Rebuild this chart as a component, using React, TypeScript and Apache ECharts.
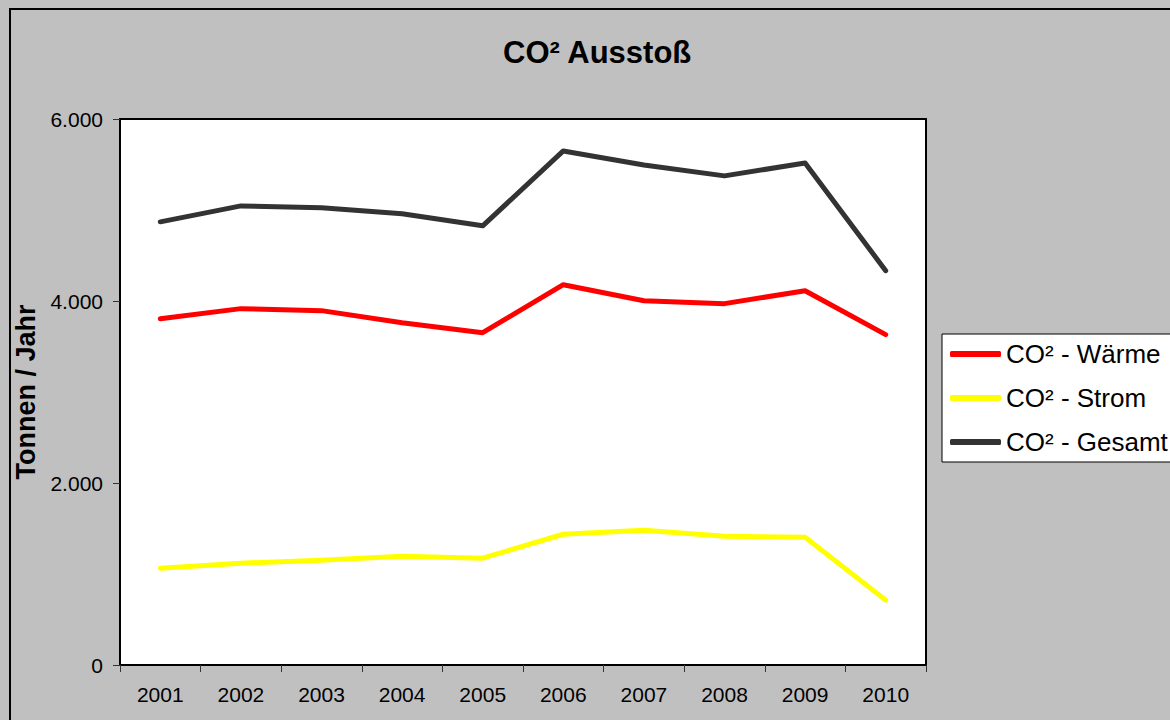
import React, { useEffect, useRef } from "react";
import * as echarts from "echarts";

const years = ["2001", "2002", "2003", "2004", "2005", "2006", "2007", "2008", "2009", "2010"];
const waerme = [3806, 3916, 3894, 3762, 3652, 4179, 4003, 3971, 4113, 3631];
const strom = [1064, 1119, 1152, 1196, 1174, 1437, 1481, 1415, 1404, 713];
const gesamt = [4870, 5045, 5025, 4958, 4826, 5649, 5495, 5375, 5517, 4333];
const seriesNames = ["CO² - Wärme", "CO² - Strom", "CO² - Gesamt"];
const seriesColors = ["#FF0000", "#FFFF00", "#333333"];

const FONT = "'Liberation Sans', Arial, sans-serif";

function fmt(v: number): string {
  return String(v).replace(/\B(?=(\d{3})+(?!\d))/g, ".");
}

export default function App() {
  const ref = useRef<HTMLDivElement>(null);
  useEffect(() => {
    if (!ref.current) return;
    const chart = echarts.init(ref.current, null, { renderer: "svg" });
    const datasets = [waerme, strom, gesamt];
    chart.setOption({
      animation: false,
      backgroundColor: "#C0C0C0",
      textStyle: { fontFamily: FONT },
      title: {
        text: "CO² Ausstoß",
        left: 503,
        top: 37,
        padding: 0,
        textStyle: { fontFamily: FONT, fontSize: 31, fontWeight: "bold", color: "#000" },
      },
      graphic: [
        {
          type: "rect",
          shape: { x: 10, y: 9, width: 1300, height: 900 },
          style: { fill: "none", stroke: "#000", lineWidth: 2 },
          silent: true,
        },
      ],
      legend: {
        orient: "vertical",
        left: 942,
        top: 334,
        padding: [7, 14, 7, 8],
        itemGap: 18,
        itemWidth: 51,
        itemHeight: 6,
        icon: "roundRect",
        backgroundColor: "#FFFFFF",
        borderColor: "#000",
        borderWidth: 1,
        textStyle: { fontFamily: FONT, fontSize: 26, color: "#000", lineHeight: 25 },
        data: seriesNames,
      },
      grid: {
        left: 120,
        top: 119,
        width: 806,
        height: 546,
        show: true,
        backgroundColor: "#FFFFFF",
        borderColor: "#000",
        borderWidth: 2,
        containLabel: false,
      },
      xAxis: {
        type: "category",
        data: years,
        boundaryGap: true,
        axisLine: { lineStyle: { color: "#000", width: 2 } },
        axisTick: { show: true, inside: false, length: 7, lineStyle: { color: "#333", width: 1 } },
        axisLabel: { fontFamily: FONT, fontSize: 21, color: "#000", margin: 19 },
        splitLine: { show: false },
      },
      yAxis: {
        type: "value",
        min: 0,
        max: 6000,
        interval: 2000,
        name: "Tonnen / Jahr",
        nameLocation: "middle",
        nameRotate: 90,
        nameGap: 70,
        nameTextStyle: { fontFamily: FONT, fontSize: 27, fontWeight: "bold", color: "#000" },
        axisLine: { show: true, lineStyle: { color: "#000", width: 2 } },
        axisTick: { show: true, inside: false, length: 7, lineStyle: { color: "#333", width: 1 } },
        axisLabel: { fontFamily: FONT, fontSize: 21, color: "#000", margin: 17, formatter: (v: number) => fmt(v) },
        splitLine: { show: false },
      },
      series: seriesNames.map((name, i) => ({
        name,
        type: "line",
        data: datasets[i],
        symbol: "none",
        color: seriesColors[i],
        lineStyle: { color: seriesColors[i], width: 5, cap: "round", join: "round" },
        z: 3,
      })),
    });
    return () => chart.dispose();
  }, []);
  return (
    <div
      ref={ref}
      style={{ position: "fixed", left: 0, top: 0, width: 1170, height: 720 }}
    />
  );
}
